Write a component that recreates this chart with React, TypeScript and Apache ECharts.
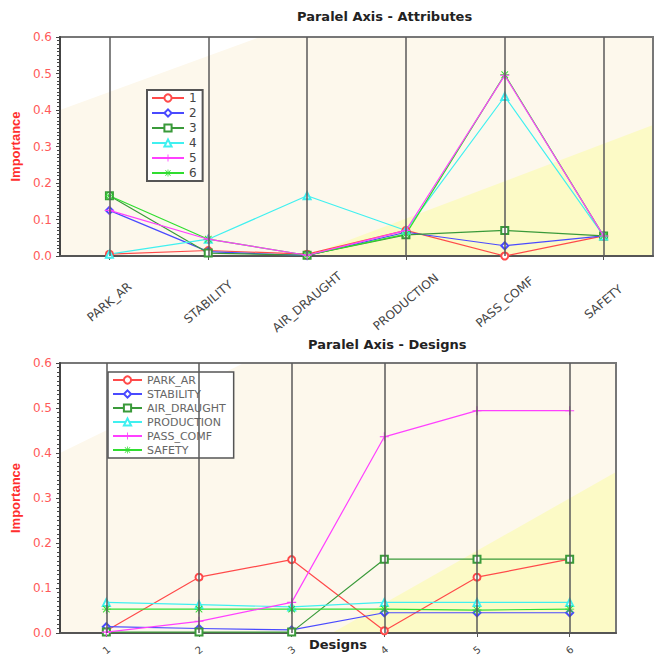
import React, { useEffect, useRef } from "react";
import * as echarts from "echarts";

const attributes = ["PARK_AR", "STABILITY", "AIR_DRAUGHT", "PRODUCTION", "PASS_COMF", "SAFETY"];
const designs = ["1", "2", "3", "4", "5", "6"];
const yTicks = ["0.0", "0.1", "0.2", "0.3", "0.4", "0.5", "0.6"];

// Top chart: one line per design, values across attributes
const design1 = [0.005, 0.015, 0.005, 0.07, 0.0, 0.055];
const design2 = [0.125, 0.012, 0.001, 0.065, 0.028, 0.055];
const design3 = [0.165, 0.008, 0.002, 0.058, 0.07, 0.055];
const design4 = [0.005, 0.046, 0.165, 0.07, 0.437, 0.055];
const design5 = [0.125, 0.046, 0.002, 0.07, 0.495, 0.055];
const design6 = [0.165, 0.046, 0.002, 0.06, 0.497, 0.055];
const designValues = [design1, design2, design3, design4, design5, design6];

// Bottom chart: one line per attribute, values across designs
const parkAr = [0.005, 0.124, 0.163, 0.005, 0.124, 0.164];
const stability = [0.014, 0.01, 0.007, 0.045, 0.045, 0.045];
const airDraught = [0.002, 0.002, 0.002, 0.164, 0.164, 0.164];
const production = [0.068, 0.063, 0.058, 0.068, 0.068, 0.068];
const passComf = [0.002, 0.026, 0.068, 0.436, 0.494, 0.494];
const safety = [0.053, 0.053, 0.053, 0.053, 0.051, 0.053];
const attributeValues = [parkAr, stability, airDraught, production, passComf, safety];

const colors = ["#ff4a4a", "#4a4aff", "#3a9a3a", "#40f0f0", "#ff40ff", "#30dd30"];
const plusPath = "path://M4.4,0L5.6,0L5.6,10L4.4,10Z M0,4.4L10,4.4L10,5.6L0,5.6Z";
const starPath =
  "path://M4.5,0L5.5,0L5.5,10L4.5,10Z M0,4.5L10,4.5L10,5.5L0,5.5Z M1,1.7L1.7,1L9,8.3L8.3,9Z M8.3,1L9,1.7L1.7,9L1,8.3Z";
const symbols = ["emptyCircle", "emptyDiamond", "emptyRect", "emptyTriangle", plusPath, starPath];

const cream = "#fdf8ec";
const paleYellow = "#fcfac6";
const FONT = "DejaVu Sans";

function makeSeries(names: string[], values: number[][], idx: number) {
  return names.map((n, i) => ({
    type: "line",
    name: n,
    xAxisIndex: idx,
    yAxisIndex: idx,
    data: values[i],
    symbol: symbols[i],
    symbolSize: i >= 4 ? 9 : 7,
    lineStyle: { color: colors[i], width: 1.2 },
    itemStyle: { color: colors[i], borderColor: colors[i], borderWidth: i >= 4 ? 0 : 1.2 },
    z: i === 4 ? 4 : 3,
  }));
}

function vLines(cats: string[], idx: number) {
  return {
    type: "line",
    name: "__grid" + idx,
    xAxisIndex: idx,
    yAxisIndex: idx,
    data: [],
    z: 1,
    silent: true,
    markLine: {
      silent: true,
      symbol: "none",
      label: { show: false },
      lineStyle: { color: "#5a5a5a", width: 1.5, type: "solid" },
      data: cats.map((c) => ({ xAxis: c })),
    },
  };
}

function yAxis(idx: number) {
  return {
    type: "value",
    gridIndex: idx,
    min: 0,
    max: 0.6,
    interval: 0.1,
    name: "Importance",
    nameLocation: "middle",
    nameGap: 25,
    nameTextStyle: { color: "#ff2e2e", fontWeight: "bold", fontSize: 13, fontFamily: "Liberation Sans" },
    axisLine: { show: true, lineStyle: { color: "#444", width: 2 } },
    axisTick: { show: true, length: 4, lineStyle: { color: "#444" } },
    minorTick: { show: true, splitNumber: 10, length: 3, lineStyle: { color: "#444" } },
    splitLine: { show: false },
    axisLabel: {
      color: "#ff5a5a",
      fontSize: 12,
      fontFamily: FONT,
      margin: 8,
      formatter: (v: number) => yTicks[Math.round(v * 10)] ?? "",
    },
  };
}

export default function App() {
  const ref = useRef<HTMLDivElement>(null);
  useEffect(() => {
    if (!ref.current) return;
    const chart = echarts.init(ref.current, null, { renderer: "svg" });
    const g1 = { left: 60, top: 37, right: 661 - 653, bottom: 658 - 256 };
    const g2 = { left: 60, top: 363, right: 661 - 616, bottom: 658 - 633 };
    const titleStyle = { fontSize: 13, fontWeight: "bold", color: "#222", fontFamily: FONT };
    chart.setOption({
      animation: false,
      backgroundColor: "#fff",
      title: [
        { text: "Paralel Axis - Attributes", left: 297, top: 10, padding: 0, textStyle: titleStyle },
        { text: "Paralel Axis - Designs", left: 308, top: 338, padding: 0, textStyle: titleStyle },
      ],
      graphic: [
        { type: "rect", z: -10, shape: { x: 60, y: 37, width: 593, height: 219 }, style: { fill: cream } },
        { type: "polygon", z: -9, shape: { points: [[60, 110], [260, 37], [60, 37]] }, style: { fill: "#ffffff" } },
        { type: "polygon", z: -9, shape: { points: [[307, 256], [653, 125], [653, 256]] }, style: { fill: paleYellow } },
        { type: "rect", z: -10, shape: { x: 60, y: 363, width: 556, height: 270 }, style: { fill: cream } },
        { type: "polygon", z: -9, shape: { points: [[60, 453], [244, 363], [60, 363]] }, style: { fill: "#ffffff" } },
        { type: "polygon", z: -9, shape: { points: [[332, 633], [616, 472], [616, 633]] }, style: { fill: paleYellow } },
      ],
      legend: [
        {
          data: designs,
          orient: "vertical",
          left: 147,
          top: 90,
          backgroundColor: "#fff",
          borderColor: "#555",
          borderWidth: 2,
          borderRadius: 0,
          padding: [2, 6, 2, 4],
          itemWidth: 32,
          itemHeight: 9,
          itemGap: 3,
          textStyle: { fontSize: 12, lineHeight: 11, color: "#444", fontFamily: FONT },
        },
        {
          data: attributes,
          orient: "vertical",
          left: 108,
          top: 372,
          backgroundColor: "#fff",
          borderColor: "#555",
          borderWidth: 1.5,
          borderRadius: 0,
          padding: [2.5, 8, 2.5, 4],
          itemWidth: 29,
          itemHeight: 9,
          itemGap: 3,
          textStyle: { fontSize: 11, lineHeight: 10, color: "#666", fontFamily: FONT },
        },
      ],
      grid: [
        { ...g1, show: true, backgroundColor: "transparent", borderColor: "#777", borderWidth: 2, containLabel: false, outerBoundsMode: "none" },
        { ...g2, show: true, backgroundColor: "transparent", borderColor: "#777", borderWidth: 2, containLabel: false, outerBoundsMode: "none" },
      ],
      xAxis: [
        {
          type: "category",
          gridIndex: 0,
          data: attributes,
          boundaryGap: true,
          axisLine: { show: true, lineStyle: { color: "#555", width: 2 } },
          axisTick: { show: true, alignWithLabel: true, length: 4, lineStyle: { color: "#555" } },
          splitLine: { show: false },
          axisLabel: {
            rotate: 40,
            align: "center",
            verticalAlign: "middle",
            margin: 46,
            color: "#444",
            fontSize: 12,
            fontFamily: FONT,
            interval: 0,
          },
        },
        {
          type: "category",
          gridIndex: 1,
          data: designs,
          boundaryGap: true,
          name: "Designs",
          nameLocation: "middle",
          nameGap: 5,
          nameMoveOverlap: false,
          nameTextStyle: { color: "#222", fontWeight: "bold", fontSize: 13, fontFamily: FONT },
          axisLine: { show: true, lineStyle: { color: "#555", width: 2 } },
          axisTick: { show: true, alignWithLabel: true, length: 4, lineStyle: { color: "#555" } },
          splitLine: { show: false },
          axisLabel: {
            rotate: 40,
            align: "center",
            verticalAlign: "middle",
            margin: 17,
            color: "#444",
            fontSize: 10,
            fontFamily: FONT,
            interval: 0,
          },
        },
      ],
      yAxis: [yAxis(0), yAxis(1)],
      series: [
        vLines(attributes, 0),
        ...makeSeries(designs, designValues, 0),
        vLines(designs, 1),
        ...makeSeries(attributes, attributeValues, 1),
      ],
    });
    return () => chart.dispose();
  }, []);
  return (
    <div
      ref={ref}
      style={{ position: "fixed", left: 0, top: 0, width: 661, height: 658 }}
    />
  );
}
